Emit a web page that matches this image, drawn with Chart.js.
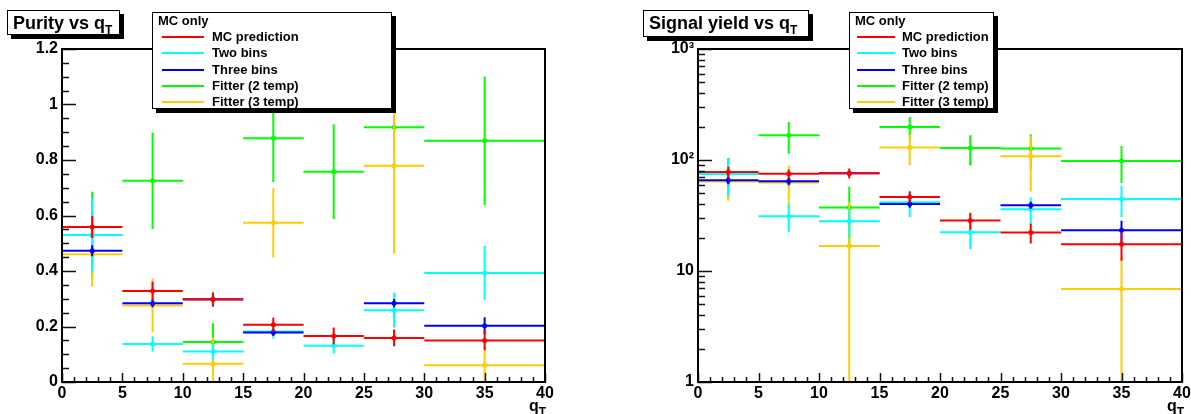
<!DOCTYPE html>
<html>
<head>
<meta charset="utf-8">
<script src="https://cdn.jsdelivr.net/npm/chart.js@4.4.1/dist/chart.umd.min.js"></script>
<style>
body { margin: 0; background: #fff; font-family: "Liberation Sans", Arial, sans-serif; }
#wrap { position: relative; width: 1191px; height: 414px; overflow: hidden; background: #fff; }
.pane { position: absolute; top: 0; height: 414px; }
.title { position: absolute; box-sizing: border-box; background: #fff; border: 1px solid #000;
         box-shadow: 4px 4px 0 #000; font-weight: bold; font-size: 18px; line-height: 24px; padding-left: 5px; white-space: nowrap; }
.title sub, .axt sub { font-size: 12px; vertical-align: -5px; line-height: 0; }
.leg { position: absolute; box-sizing: border-box; background: #fff; border: 1px solid #000;
       box-shadow: 4px 4px 0 #000; font-weight: bold; font-size: 13px; }
.leg .hd { position: absolute; left: 5px; top: 0px; line-height: 16px; }
.leg .row { position: absolute; height: 16px; line-height: 16px; white-space: nowrap; }
.leg .sw { position: absolute; top: 7px; height: 2px; }
.axt { position: absolute; font-weight: bold; font-size: 16px; line-height: 16px; }
</style>
</head>
<body>
<div id="wrap">
  <div class="pane" style="left:0;width:595px"><canvas id="purity" width="595" height="414"></canvas></div>
  <div class="pane" style="left:595px;width:610px"><canvas id="yield" width="610" height="414"></canvas></div>
  <div class="title" style="left:7px;top:10px;width:113px;height:25px">Purity vs q<sub>T</sub></div>
  <div class="title" style="left:643px;top:10px;width:166px;height:27px">Signal yield vs q<sub>T</sub></div>
  <div class="leg" id="leg1" style="left:152px;top:12px;width:240px;height:97px"></div>
  <div class="leg" id="leg2" style="left:849px;top:12px;width:145px;height:97px"></div>
  <div class="axt" style="left:529px;top:398px">q<sub>T</sub></div>
  <div class="axt" style="left:1167px;top:398px">q<sub>T</sub></div>
</div>
<script>
// q_T bins
const binLo = [0, 5, 10, 15, 20, 25, 30];
const binHi = [5, 10, 15, 20, 25, 30, 40];
const binMid = [2.5, 7.5, 12.5, 17.5, 22.5, 27.5, 35];

const seriesNames = ['MC prediction', 'Two bins', 'Three bins', 'Fitter (2 temp)', 'Fitter (3 temp)'];
const seriesColors = ['#ff0000', '#00ffff', '#0000ff', '#00ff00', '#ffcc00'];
const seriesOrder = [0, 2, 1, 4, 3]; // red on top, green at the back

// purity vs qT
const purMC = [0.559, 0.328, 0.297, 0.206, 0.166, 0.159, 0.150];
const purMCErr = [0.04, 0.033, 0.026, 0.026, 0.03, 0.03, 0.036];
const purTwo = [0.530, 0.137, 0.110, 0.182, 0.131, 0.259, 0.393];
const purTwoErr = [0.132, 0.028, 0.03, 0.025, 0.028, 0.063, 0.097];
const purThree = [0.473, 0.284, 0.298, 0.178, null, 0.284, 0.203];
const purThreeErr = [0.02, 0.015, 0.012, 0.012, 0, 0.015, 0.03];
const purFit2 = [0.530, 0.725, 0.144, 0.878, 0.758, 0.918, 0.869];
const purFit2Err = [0.156, 0.174, 0.068, 0.157, 0.171, 0.1, 0.232];
const purFit3 = [0.460, 0.276, 0.066, 0.574, null, 0.779, 0.060];
const purFit3Err = [0.117, 0.097, 0.094, 0.125, 0, 0.316, 0.07];

// signal yield vs qT
const yldMC = [78, 75, 76, 46.4, 28.5, 22.2, 17.4];
const yldMCErr = [9, 7, 8, 5.5, 5, 4.5, 5];
const yldTwo = [74.8, 31.1, 28, 41.6, 22.3, 36, 44.5];
const yldTwoErr = [27, 8.7, 8, 11, 6.6, 10, 14];
const yldThree = [65.6, 64.3, 76, 40.1, null, 39.1, 23.3];
const yldThreeErr = [5, 5, 4, 3, 0, 3, 5];
const yldFit2 = [75, 167, 37.3, 198, 128, 127, 98];
const yldFit2Err = [29, 53, 20, 46, 39, 44, 36];
const yldFit3 = [63.9, 62.6, 16.8, 129.4, null, 108, 6.9];
const yldFit3Err = [21, 26, 25, 40, 0, 56, 6.5];

const purityTicks = [0, 0.2, 0.4, 0.6, 0.8, 1, 1.2];
const purityTickLabels = ['0', '0.2', '0.4', '0.6', '0.8', '1', '1.2'];
const yieldTicks = [1, 10, 100, 1000];
const yieldTickLabels = ['1', '10', '10\u00b2', '10\u00b3'];

const tickFont = { family: '"Liberation Sans", Arial, sans-serif', size: 16, weight: 'bold' };

// horizontal bar across the bin, vertical bar for the error, dot in the middle
function errorData(vals, errs, floor) {
    const pts = [];
    vals.forEach((v, i) => {
        if (v === null) return;
        pts.push({ x: binLo[i], y: v }, { x: binHi[i], y: v }, { x: binHi[i], y: null });
        pts.push({ x: binMid[i], y: Math.max(v - errs[i], floor) }, { x: binMid[i], y: v, m: true },
                 { x: binMid[i], y: v + errs[i] }, { x: binMid[i], y: null });
    });
    return pts;
}

function makeDatasets(list, floor) {
    return list.map((s, k) => ({
        label: seriesNames[k],
        data: errorData(s[0], s[1], floor),
        borderColor: seriesColors[k],
        backgroundColor: seriesColors[k],
        borderWidth: 2,
        order: seriesOrder[k],
        spanGaps: false,
        tension: 0,
        pointRadius: ctx => (ctx.raw && ctx.raw.m ? 2.5 : 0),
        pointBorderWidth: 0,
        pointHoverRadius: 0,
        pointBackgroundColor: seriesColors[k]
    }));
}

// ROOT style frame with ticks pointing inwards
const rootFrame = {
    id: 'rootFrame',
    afterDatasetsDraw(chart, args, opts) {
        const { ctx, chartArea: a, scales: { x, y } } = chart;
        ctx.save();
        ctx.strokeStyle = '#111';
        ctx.lineWidth = 1.5;
        ctx.beginPath();
        for (let v = 0; v <= 40; v++) {
            const px = Math.round(x.getPixelForValue(v)) + 0.5;
            const len = v % 5 === 0 ? 9 : 5;
            ctx.moveTo(px, a.bottom);
            ctx.lineTo(px, a.bottom - len);
        }
        opts.yMinor.forEach(v => {
            const py = Math.round(y.getPixelForValue(v)) + 0.5;
            ctx.moveTo(a.left, py);
            ctx.lineTo(a.left + 7, py);
        });
        opts.yMajor.forEach(v => {
            const py = Math.round(y.getPixelForValue(v)) + 0.5;
            ctx.moveTo(a.left, py);
            ctx.lineTo(a.left + 14, py);
        });
        ctx.stroke();
        ctx.strokeStyle = '#000';
        ctx.lineWidth = 2;
        ctx.strokeRect(a.left, a.top, a.right - a.left, a.bottom - a.top);
        ctx.restore();
    }
};

function xAxis() {
    return {
        type: 'linear', min: 0, max: 40,
        afterFit: s => { s.height = 32; },
        ticks: { stepSize: 5, padding: 2, color: '#000', font: tickFont, maxRotation: 0 },
        grid: { display: false, drawTicks: false },
        border: { display: false }
    };
}

const purMinor = [];
for (let k = 0; k <= 24; k++) if (k % 4) purMinor.push(k * 0.05);
const yldMinor = [];
for (let d = 1; d < 1000; d *= 10) for (let m = 2; m <= 9; m++) yldMinor.push(m * d);

new Chart(document.getElementById('purity'), {
    type: 'line',
    data: {
        datasets: makeDatasets([[purMC, purMCErr], [purTwo, purTwoErr], [purThree, purThreeErr],
                                [purFit2, purFit2Err], [purFit3, purFit3Err]], -1)
    },
    options: {
        responsive: false,
        animation: false,
        events: [],
        layout: { padding: { top: 49, right: 50, left: 0, bottom: 0 } },
        scales: {
            x: xAxis(),
            y: {
                type: 'linear', min: 0, max: 1.2,
                afterFit: s => { s.width = 62; },
                afterBuildTicks: s => { s.ticks = purityTicks.map(v => ({ value: v })); },
                ticks: { padding: 4, color: '#000', font: tickFont,
                         callback: (v, i) => purityTickLabels[i] },
                grid: { display: false, drawTicks: false },
                border: { display: false }
            }
        },
        plugins: {
            legend: { display: false },
            tooltip: { enabled: false },
            rootFrame: { yMajor: purityTicks, yMinor: purMinor }
        }
    },
    plugins: [rootFrame]
});

new Chart(document.getElementById('yield'), {
    type: 'line',
    data: {
        datasets: makeDatasets([[yldMC, yldMCErr], [yldTwo, yldTwoErr], [yldThree, yldThreeErr],
                                [yldFit2, yldFit2Err], [yldFit3, yldFit3Err]], 0.3)
    },
    options: {
        responsive: false,
        animation: false,
        events: [],
        layout: { padding: { top: 49, right: 23, left: 0, bottom: 0 } },
        scales: {
            x: xAxis(),
            y: {
                type: 'logarithmic', min: 1, max: 1000,
                afterFit: s => { s.width = 103; },
                afterBuildTicks: s => { s.ticks = yieldTicks.map(v => ({ value: v })); },
                ticks: { padding: 4, color: '#000', font: tickFont,
                         callback: (v, i) => yieldTickLabels[i] },
                grid: { display: false, drawTicks: false },
                border: { display: false }
            }
        },
        plugins: {
            legend: { display: false },
            tooltip: { enabled: false },
            rootFrame: { yMajor: yieldTicks, yMinor: yldMinor }
        }
    },
    plugins: [rootFrame]
});

// legends
function buildLegend(id, swX, swW, textX) {
    const box = document.getElementById(id);
    const hd = document.createElement('div');
    hd.className = 'hd';
    hd.textContent = 'MC only';
    box.appendChild(hd);
    seriesNames.forEach((name, k) => {
        const row = document.createElement('div');
        row.className = 'row';
        row.style.top = (16 + k * 16.3) + 'px';
        row.style.left = '0px';
        row.innerHTML = '<div class="sw" style="left:' + swX + 'px;width:' + swW + 'px;background:' +
            seriesColors[k] + '"></div><span style="position:absolute;left:' + textX + 'px">' + name + '</span>';
        box.appendChild(row);
    });
}
buildLegend('leg1', 9, 42, 59);
buildLegend('leg2', 7, 38, 52);
</script>
</body>
</html>
